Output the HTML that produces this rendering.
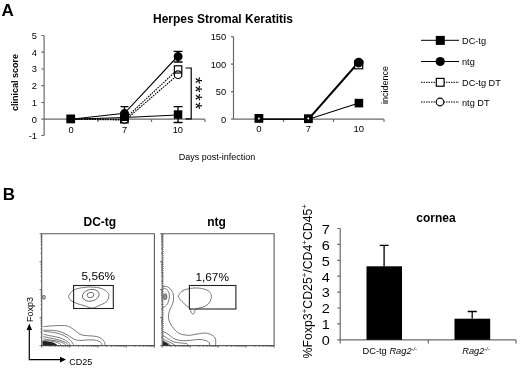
<!DOCTYPE html>
<html><head><meta charset="utf-8">
<style>
html,body{margin:0;padding:0;background:#fff;}
svg{display:block;filter:blur(0.35px);font-family:"Liberation Sans",Arial,sans-serif;}
</style></head>
<body>
<svg width="520" height="369" viewBox="0 0 520 369">
<rect width="520" height="369" fill="#fff"/>
<g fill="#000">
<text x="1.5" y="15.5" font-size="17" font-weight="bold">A</text>
<text x="2.8" y="200.3" font-size="17" font-weight="bold">B</text>
<text x="223" y="22.5" font-size="12" font-weight="bold" text-anchor="middle">Herpes Stromal Keratitis</text>
<text x="217" y="160" font-size="9" text-anchor="middle">Days post-infection</text>
</g>

<!-- Left chart -->
<g stroke="#6a6a6a" stroke-width="1.2" fill="none">
<path d="M44.1 35.5V135.5"/>
<path d="M41.3 35.5H44.1M41.3 52.2H44.1M41.3 69H44.1M41.3 85.7H44.1M41.3 102.5H44.1M41.3 119.2H44.1M41.3 135.5H44.1"/>
<path d="M44.1 119.2H205"/>
<path d="M98 119.2V122M151.5 119.2V122M205 119.2V122"/>
</g>
<g font-size="9.3" fill="#000" text-anchor="end">
<text x="37" y="39">5</text><text x="37" y="55.5">4</text><text x="37" y="72.3">3</text><text x="37" y="89">2</text><text x="37" y="105.8">1</text><text x="37" y="122.5">0</text><text x="37" y="139">-1</text>
</g>
<g font-size="9.3" fill="#000" text-anchor="middle">
<text x="71" y="133.1">0</text><text x="124.5" y="133.1">7</text><text x="177.8" y="133.1">10</text>
</g>
<text transform="translate(18.3,82.4) rotate(-90)" font-size="9" font-weight="bold" text-anchor="middle" fill="#000">clinical score</text>

<g stroke="#000" stroke-width="1.1" fill="none">
<path d="M71 119.2L124.5 117.5L177.5 115"/>
<path d="M178 106.6V122.5M173.6 106.6H182.6M173.6 122.5H182.6" stroke-width="1.3"/>
<path d="M71 119.2L124.5 113.3L177.5 56.5"/>
<path d="M124.5 106.7V119M120.5 106.7H128.5" stroke-width="1.3"/>
<path d="M178 51.3V62M173.6 51.3H182.6M173.6 62H182.6" stroke-width="1.3"/>
<path d="M71 119.2L124.5 119.2L177.5 69.5" stroke-dasharray="1.6 1"/>
<path d="M71 119.2L125.5 120L177.5 75" stroke-dasharray="1.6 1"/>
</g>
<g stroke="#000" stroke-width="1.3">
<circle cx="178.1" cy="74.7" r="3.8" fill="#fff" stroke="none"/>
<rect x="174.4" y="65.8" width="7.4" height="7.2" fill="#fff" stroke-width="1.2"/>
<circle cx="178.1" cy="74.7" r="3.8" fill="none" stroke-width="1.2"/>
<rect x="120.7" y="115.5" width="7.4" height="7.4" fill="#fff"/>
<circle cx="124.5" cy="119.2" r="3.9" fill="#fff"/>
<circle cx="124.5" cy="113.6" r="3.9" fill="#000"/>
<rect x="120.3" y="113.3" width="8.4" height="7.7" fill="#000" stroke="none"/>
<circle cx="178.1" cy="56.5" r="3.8" fill="#000"/>
<rect x="173.8" y="110.3" width="8.5" height="8.5" fill="#000" stroke="none"/>
<rect x="66.3" y="114.5" width="8.8" height="8.8" fill="#000" stroke="none"/>
</g>
<path d="M185.5 68H191.2V118.8H185.5" stroke="#000" stroke-width="1.2" fill="none"/>
<text transform="translate(188.6,93.8) rotate(90)" font-size="18" text-anchor="middle" fill="#000" letter-spacing="1.4">****</text>

<!-- Right chart -->
<g stroke="#6a6a6a" stroke-width="1.2" fill="none">
<path d="M233.5 36.7V119.2"/>
<path d="M231 36.7H233.5M231 64.2H233.5M231 91.7H233.5M231 119.2H233.5"/>
<path d="M233.5 119.2H384"/>
<path d="M283.5 119.2V122M333.5 119.2V122M384 119.2V122"/>
</g>
<g font-size="9.3" fill="#000" text-anchor="end">
<text x="226.2" y="40">150</text><text x="226.2" y="67.5">100</text><text x="226.2" y="95">50</text><text x="226.2" y="122.5">0</text>
</g>
<g font-size="9.5" fill="#000" text-anchor="middle">
<text x="259" y="132.3">0</text><text x="308.3" y="132.3">7</text><text x="358.8" y="132.3">10</text>
</g>
<text transform="translate(388,85) rotate(-90)" font-size="9" text-anchor="middle" fill="#000">incidence</text>
<g stroke="#000" stroke-width="1.1" fill="none">
<path d="M259 119.2H308.5L358.9 103.1"/>
<path d="M259 119.2H308.5" stroke-width="1.3"/><path d="M308.5 119.2L358.8 62" stroke-width="2"/>
</g>
<g stroke="#000" stroke-width="1.2">
<rect x="354.7" y="60.8" width="8" height="8" fill="#fff"/>
<circle cx="358.7" cy="62.6" r="4.3" fill="#000"/>
<rect x="354.6" y="98.8" width="8.6" height="8.6" fill="#000" stroke="none"/>
<rect x="254.5" y="114" width="8.8" height="8.8" fill="#000" stroke="none"/>
<rect x="304" y="114.3" width="8.8" height="8.8" fill="#000" stroke="none"/>
<circle cx="258.9" cy="118.4" r="1" fill="#fff" stroke="none"/>
<circle cx="308.3" cy="118.6" r="1" fill="#fff" stroke="none"/>
</g>

<!-- Legend -->
<g stroke="#000" stroke-width="1" fill="none">
<path d="M421 40.3H459M421 61.5H459"/>
<path d="M421 82.3H459M421 102H459" stroke-dasharray="1.5 1"/>
</g>
<rect x="435.8" y="35.9" width="9" height="9" fill="#000"/>
<circle cx="440.2" cy="61.5" r="4.6" fill="#000"/>
<rect x="436.3" y="78.4" width="7.8" height="7.8" fill="#fff" stroke="#000" stroke-width="1.2"/>
<circle cx="440" cy="102" r="3.8" fill="#fff" stroke="#000" stroke-width="1.2"/>
<g font-size="9.2" fill="#000">
<text x="462" y="43.5">DC-tg</text><text x="462" y="65">ntg</text><text x="462" y="85.7">DC-tg DT</text><text x="462" y="105.5">ntg DT</text>
</g>

<!-- Panel B flow plots -->
<text x="99.8" y="225.6" font-size="12" font-weight="bold" text-anchor="middle" fill="#000">DC-tg</text>
<text x="216.6" y="226" font-size="12" font-weight="bold" text-anchor="middle" fill="#000">ntg</text>
<g stroke="#5a5a5a" stroke-width="1.1" fill="none">
<path d="M41.7 233.7H154.4V345.6H41.7Z"/>
<path d="M162.2 233.7H274.1V345.6H162.2Z"/>
</g>
<g stroke="#444" stroke-width="0.7" fill="none">
<path d="M41.7 345.6h-2.2M41.7 337.2h-1.2M41.7 332.3h-1.2M41.7 328.8h-1.2M41.7 326.0h-1.2M41.7 323.8h-1.2M41.7 322.0h-1.2M41.7 320.3h-1.2M41.7 318.9h-1.2M41.7 317.6h-2.2M41.7 309.2h-1.2M41.7 304.3h-1.2M41.7 300.8h-1.2M41.7 298.1h-1.2M41.7 295.8h-1.2M41.7 294.0h-1.2M41.7 292.4h-1.2M41.7 290.9h-1.2M41.7 289.6h-2.2M41.7 281.2h-1.2M41.7 276.3h-1.2M41.7 272.8h-1.2M41.7 270.1h-1.2M41.7 267.9h-1.2M41.7 266.0h-1.2M41.7 264.4h-1.2M41.7 262.9h-1.2M41.7 261.7h-2.2M41.7 253.2h-1.2M41.7 248.3h-1.2M41.7 244.8h-1.2M41.7 242.1h-1.2M41.7 239.9h-1.2M41.7 238.0h-1.2M41.7 236.4h-1.2M41.7 235.0h-1.2M41.7 233.7h-2.2"/><path d="M41.7 345.6v2.2M50.2 345.6v1.2M55.1 345.6v1.2M58.7 345.6v1.2M61.4 345.6v1.2M63.6 345.6v1.2M65.5 345.6v1.2M67.1 345.6v1.2M68.6 345.6v1.2M69.9 345.6v2.2M78.4 345.6v1.2M83.3 345.6v1.2M86.8 345.6v1.2M89.6 345.6v1.2M91.8 345.6v1.2M93.7 345.6v1.2M95.3 345.6v1.2M96.8 345.6v1.2M98.0 345.6v2.2M106.5 345.6v1.2M111.5 345.6v1.2M115.0 345.6v1.2M117.7 345.6v1.2M120.0 345.6v1.2M121.8 345.6v1.2M123.5 345.6v1.2M124.9 345.6v1.2M126.2 345.6v2.2M134.7 345.6v1.2M139.7 345.6v1.2M143.2 345.6v1.2M145.9 345.6v1.2M148.1 345.6v1.2M150.0 345.6v1.2M151.7 345.6v1.2M153.1 345.6v1.2M154.4 345.6v2.2"/><path d="M162.2 345.6h-2.2M162.2 337.2h-1.2M162.2 332.3h-1.2M162.2 328.8h-1.2M162.2 326.0h-1.2M162.2 323.8h-1.2M162.2 322.0h-1.2M162.2 320.3h-1.2M162.2 318.9h-1.2M162.2 317.6h-2.2M162.2 309.2h-1.2M162.2 304.3h-1.2M162.2 300.8h-1.2M162.2 298.1h-1.2M162.2 295.8h-1.2M162.2 294.0h-1.2M162.2 292.4h-1.2M162.2 290.9h-1.2M162.2 289.6h-2.2M162.2 281.2h-1.2M162.2 276.3h-1.2M162.2 272.8h-1.2M162.2 270.1h-1.2M162.2 267.9h-1.2M162.2 266.0h-1.2M162.2 264.4h-1.2M162.2 262.9h-1.2M162.2 261.7h-2.2M162.2 253.2h-1.2M162.2 248.3h-1.2M162.2 244.8h-1.2M162.2 242.1h-1.2M162.2 239.9h-1.2M162.2 238.0h-1.2M162.2 236.4h-1.2M162.2 235.0h-1.2M162.2 233.7h-2.2"/><path d="M162.2 345.6v2.2M170.6 345.6v1.2M175.5 345.6v1.2M179.0 345.6v1.2M181.8 345.6v1.2M184.0 345.6v1.2M185.8 345.6v1.2M187.5 345.6v1.2M188.9 345.6v1.2M190.2 345.6v2.2M198.6 345.6v1.2M203.5 345.6v1.2M207.0 345.6v1.2M209.7 345.6v1.2M212.0 345.6v1.2M213.8 345.6v1.2M215.4 345.6v1.2M216.9 345.6v1.2M218.2 345.6v2.2M226.6 345.6v1.2M231.5 345.6v1.2M235.0 345.6v1.2M237.7 345.6v1.2M239.9 345.6v1.2M241.8 345.6v1.2M243.4 345.6v1.2M244.9 345.6v1.2M246.1 345.6v2.2M254.6 345.6v1.2M259.5 345.6v1.2M263.0 345.6v1.2M265.7 345.6v1.2M267.9 345.6v1.2M269.8 345.6v1.2M271.4 345.6v1.2M272.8 345.6v1.2M274.1 345.6v2.2"/>
</g>
<g stroke="#555" stroke-width="0.8" fill="none">
<path d="M43.4 326.5C45.1 326.4 50.2 326.0 53.4 325.8C56.6 325.6 60.0 325.4 62.6 325.5C65.2 325.6 66.8 325.7 68.8 326.5C70.8 327.3 72.9 329.0 74.9 330.4C77.0 331.8 78.8 333.8 81.1 334.7C83.4 335.6 86.2 335.5 88.8 335.8C91.4 336.1 94.2 335.9 96.5 336.5C98.8 337.1 101.2 338.4 102.6 339.6C104.0 340.8 104.5 342.5 104.9 343.5C105.3 344.5 104.9 345.2 104.9 345.5 M43.4 330.1C45.1 330.2 50.4 330.1 53.4 330.4C56.4 330.7 58.5 331.0 61.1 331.9C63.7 332.8 66.5 334.5 68.8 335.8C71.1 337.1 72.9 338.8 74.9 339.6C77.0 340.4 78.8 340.3 81.1 340.4C83.4 340.4 86.2 339.9 88.8 339.9C91.4 339.9 94.5 339.9 96.5 340.4C98.5 340.9 100.2 341.8 101.1 342.7C102.0 343.6 101.7 345.0 101.8 345.5 M43.4 331.2C44.8 331.4 49.1 331.8 51.8 332.2C54.5 332.6 57.2 333.1 59.5 333.8C61.8 334.5 63.9 335.4 65.7 336.5C67.5 337.6 69.0 339.1 70.3 340.4C71.6 341.7 72.8 343.3 73.4 344.2C74.0 345.1 73.7 345.3 73.7 345.5 M43.4 334.2C44.5 334.5 47.9 335.3 50.3 335.8C52.7 336.3 55.7 336.7 58.0 337.3C60.3 337.9 62.4 338.7 64.2 339.6C66.0 340.5 67.8 341.7 68.8 342.7C69.8 343.7 70.0 345.0 70.3 345.5 M43.4 336.5C44.5 336.8 48.1 337.6 50.3 338.1C52.5 338.6 54.5 338.8 56.5 339.3C58.5 339.8 60.8 340.5 62.6 341.2C64.4 341.9 66.3 342.8 67.2 343.5C68.1 344.2 67.9 345.2 68.0 345.5 M43.4 338.8C44.5 339.0 47.6 339.6 50.0 340.0C52.4 340.4 55.6 340.6 58.0 341.2C60.4 341.8 62.9 342.8 64.2 343.5C65.5 344.2 65.5 345.2 65.7 345.5 M43.4 340.4C45.1 340.6 50.7 341.0 53.4 341.5C56.1 342.0 58.2 342.8 59.5 343.5C60.8 344.2 60.8 345.2 61.1 345.5 M43.4 341.5C44.5 341.6 48.1 341.9 50.0 342.3C51.9 342.7 53.8 343.3 55.0 343.8C56.2 344.3 56.7 345.2 57.0 345.5 M69.2 295.0C69.9 293.8 71.3 291.5 73.1 290.4C74.9 289.2 77.1 288.6 80.0 288.1C82.9 287.5 87.2 286.9 90.8 287.0C94.4 287.1 98.7 287.6 101.5 288.5C104.4 289.5 106.5 291.4 107.7 292.7C108.9 294.0 109.0 295.0 108.8 296.5C108.5 298.1 107.9 300.4 106.2 301.9C104.4 303.5 100.8 304.7 98.5 305.8C96.2 306.8 94.6 308.1 92.3 308.1C90.0 308.1 87.2 306.5 84.6 305.8C82.1 305.0 79.2 304.4 76.9 303.5C74.6 302.6 72.1 301.4 70.8 300.4C69.4 299.4 69.0 298.2 68.8 297.3C68.5 296.4 68.5 296.2 69.2 295.0Z"/>
<ellipse cx="90.8" cy="295.3" rx="8.5" ry="5.8" transform="rotate(-12 90.8 295.3)"/>
<ellipse cx="90.5" cy="295" rx="3.4" ry="2.6" transform="rotate(-12 90.5 295)"/>
<ellipse cx="43.8" cy="297.3" rx="1.5" ry="2" fill="#bbb"/>
<path d="M163.0 286.3C163.8 286.4 166.3 286.1 167.8 286.9C169.3 287.7 171.1 289.7 172.1 291.3C173.1 292.9 173.5 294.7 173.6 296.7C173.7 298.7 173.4 301.0 172.8 303.2C172.2 305.4 170.6 307.5 169.9 309.7C169.2 311.9 168.4 314.0 168.4 316.2C168.4 318.4 168.9 320.5 169.9 322.7C170.9 324.9 172.7 327.4 174.3 329.2C175.9 331.0 177.3 332.6 179.7 333.6C182.0 334.6 185.5 335.2 188.4 335.3C191.3 335.4 194.1 334.4 197.0 334.0C199.9 333.6 203.2 332.9 205.7 333.1C208.2 333.3 210.6 334.3 212.2 335.3C213.8 336.3 214.9 337.3 215.5 339.0C216.1 340.7 215.5 344.4 215.5 345.5 M163.0 288.4C163.5 288.6 165.3 288.4 166.2 289.1C167.2 289.8 168.3 290.9 168.8 292.4C169.4 293.8 169.5 296.0 169.3 297.8C169.1 299.6 168.5 301.8 167.8 303.2C167.0 304.6 165.7 305.7 164.9 306.5C164.1 307.2 163.3 307.4 163.0 307.5 M163.0 331.4C163.8 331.8 165.9 332.8 167.8 334.0C169.6 335.2 171.9 337.7 174.3 338.8C176.6 339.9 179.1 340.5 181.9 340.7C184.6 341.0 187.6 340.5 190.5 340.3C193.4 340.1 196.6 339.4 199.2 339.4C201.8 339.5 204.5 340.2 206.2 340.7C207.8 341.3 208.6 341.9 209.2 342.7C209.8 343.4 209.6 344.8 209.6 345.3 M163.0 335.5C163.8 336.0 166.1 337.5 167.8 338.6C169.5 339.6 171.2 340.9 173.2 341.6C175.2 342.3 177.5 342.6 179.7 342.9C181.9 343.2 184.8 343.1 186.2 343.5C187.6 343.9 188.0 345.0 188.4 345.3 M163.0 339.0C163.6 339.3 165.3 340.1 166.7 340.7C168.0 341.4 169.6 342.1 171.0 342.9C172.5 343.7 174.6 344.9 175.4 345.3 M163.0 340.9C163.4 341.2 164.6 341.8 165.6 342.2C166.6 342.7 168.0 343.3 168.8 343.8C169.7 344.3 170.3 345.0 170.6 345.3 M178.6 295.6C179.0 294.4 180.4 292.4 181.9 291.3C183.4 290.2 185.3 289.7 187.3 289.1C189.3 288.6 191.5 288.1 193.8 288.0C196.2 287.9 199.1 288.0 201.4 288.4C203.8 288.8 206.3 289.6 207.9 290.6C209.5 291.6 210.6 293.1 211.1 294.5C211.6 295.9 211.4 297.4 211.1 298.9C210.8 300.3 210.1 301.9 209.0 303.2C207.9 304.5 206.2 305.7 204.6 306.5C203.0 307.3 200.8 307.5 199.2 308.0C197.6 308.5 196.1 308.9 195.3 309.7C194.5 310.5 194.8 312.3 194.4 313.0C194.0 313.7 193.3 314.1 192.7 314.0C192.1 313.9 191.4 313.2 191.0 312.3C190.6 311.4 190.9 309.8 190.1 308.6C189.3 307.5 187.6 306.6 186.2 305.4C184.8 304.2 183.1 302.7 181.9 301.5C180.8 300.3 179.9 299.4 179.3 298.4C178.8 297.4 178.2 296.8 178.6 295.6Z"/>
<ellipse cx="165.2" cy="296.7" rx="1.7" ry="3" fill="#999"/>
</g>
<path d="M42.5 345.5L42.5 340.8L53 342.6L58 345.5Z" fill="#222"/>
<path d="M162.8 345.5L162.8 341L167.3 343.3L169.5 345.5Z" fill="#222"/>
<path d="M163.2 234V345.6" stroke="#444" stroke-width="1" stroke-dasharray="0.7 1.2" fill="none"/>
<g stroke="#222" stroke-width="1.1" fill="none">
<rect x="73.6" y="285.5" width="39.7" height="23"/>
<rect x="189.4" y="285.5" width="46.5" height="23.5"/>
</g>
<text x="98.3" y="280.2" font-size="11.8" text-anchor="middle" fill="#000">5,56%</text>
<text x="212.2" y="281.2" font-size="11.8" text-anchor="middle" fill="#000">1,67%</text>
<text transform="translate(33,309.5) rotate(-90)" font-size="9" text-anchor="middle" fill="#000">Foxp3</text>
<text x="69.3" y="365" font-size="9" fill="#000">CD25</text>
<path d="M29.3 328V359.6H61" stroke="#000" stroke-width="1.2" fill="none"/>
<path d="M26.6 330L29.3 323.5L32 330Z M60 356.7L66 359.6L60 362.5Z" fill="#000"/>

<!-- Bar chart -->
<text x="436" y="222.2" font-size="12" font-weight="bold" text-anchor="middle" fill="#000">cornea</text>
<g stroke="#6a6a6a" stroke-width="1.2" fill="none">
<path d="M340.2 228.5V339.8"/>
<path d="M337.2 228.5H340.2M337.2 244.4H340.2M337.2 260.3H340.2M337.2 276.2H340.2M337.2 292.1H340.2M337.2 308H340.2M337.2 323.9H340.2M337.2 339.8H340.2"/>
<path d="M340.2 339.8H516"/>
<path d="M340.2 339.8V343.5M428.3 339.8V343.5M516 339.8V343.5"/>
</g>
<rect x="366.5" y="266.3" width="35.5" height="73.5" fill="#000"/>
<rect x="454.5" y="318.7" width="35.7" height="21.1" fill="#000"/>
<path d="M384.1 266.4V245.4M379.7 245.4H388.6M472.2 318.4V311.5M467.7 311.5H476.8" stroke="#000" stroke-width="1.3" fill="none"/>
<g font-size="12.3" fill="#000" text-anchor="end">
<text transform="translate(329.8,233.8) scale(1.18,1)">7</text><text transform="translate(329.8,249.7) scale(1.18,1)">6</text><text transform="translate(329.8,265.6) scale(1.18,1)">5</text><text transform="translate(329.8,281.5) scale(1.18,1)">4</text><text transform="translate(329.8,297.4) scale(1.18,1)">3</text><text transform="translate(329.8,313.3) scale(1.18,1)">2</text><text transform="translate(329.8,329.2) scale(1.18,1)">1</text><text transform="translate(329.8,345.1) scale(1.18,1)">0</text>
</g>
<text transform="translate(311.7,358.4) rotate(-90)" font-size="12.3" fill="#000">%Foxp3<tspan dy="-4.6" font-size="7.8">+</tspan><tspan dy="4.6">CD25</tspan><tspan dy="-4.6" font-size="7.8">+</tspan><tspan dy="4.6">/CD4</tspan><tspan dy="-4.6" font-size="7.8">+</tspan><tspan dy="4.6">CD45</tspan><tspan dy="-4.6" font-size="7.8">+</tspan></text>
<text x="389.7" y="354.4" font-size="9.3" text-anchor="middle" fill="#000">DC-tg <tspan font-style="italic">Rag2</tspan><tspan dy="-3" font-size="5.6" font-style="italic">-/-</tspan></text>
<text x="476" y="354.4" font-size="9.3" text-anchor="middle" fill="#000"><tspan font-style="italic">Rag2</tspan><tspan dy="-3" font-size="5.6" font-style="italic">-/-</tspan></text>
</svg>
</body></html>
